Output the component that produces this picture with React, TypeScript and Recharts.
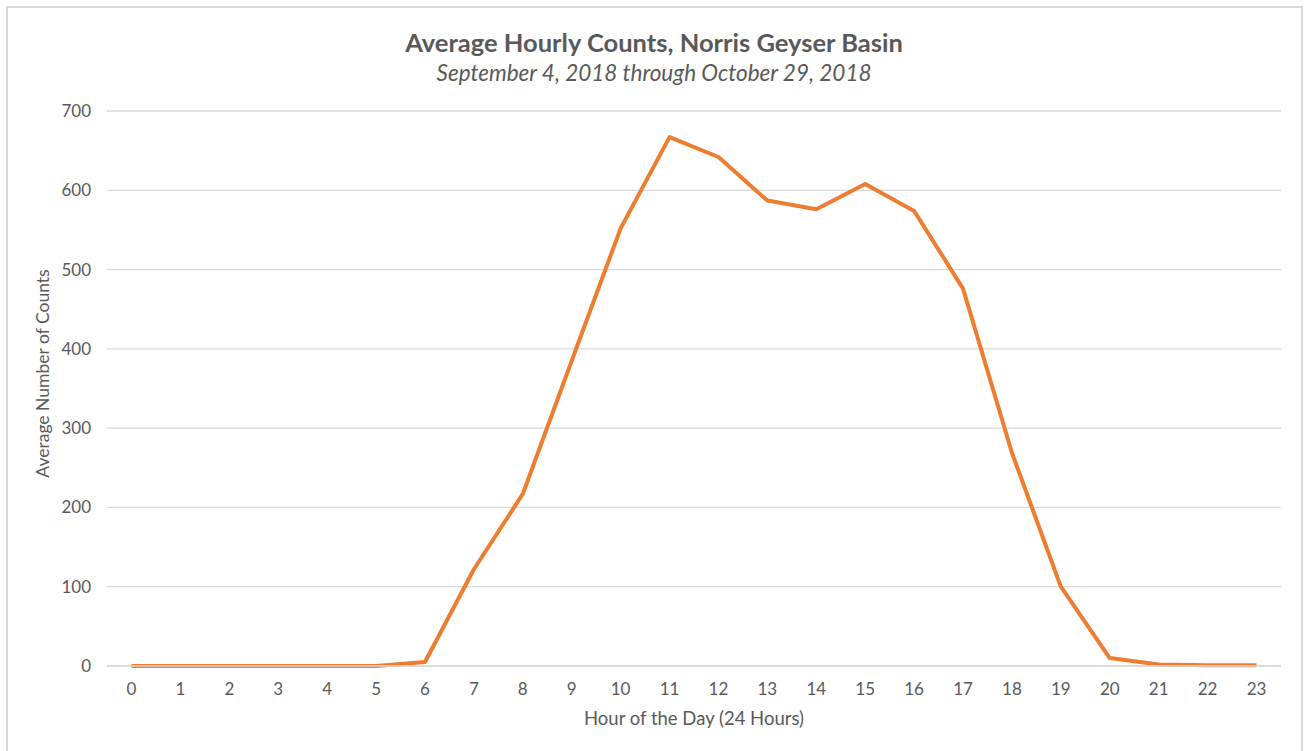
import React from 'react';
import { LineChart, Line, XAxis, YAxis, CartesianGrid, Label } from 'recharts';

// average counts per hour of day
const hours = [
  '0', '1', '2', '3', '4', '5', '6', '7', '8', '9', '10', '11',
  '12', '13', '14', '15', '16', '17', '18', '19', '20', '21', '22', '23',
];
const avgCounts = [
  0, 0, 0, 0, 0, 0, 5, 122, 217, 385, 552, 667,
  642, 587, 576, 608, 574, 476, 269, 100, 10, 2, 1, 1,
];
const yTicks = [0, 100, 200, 300, 400, 500, 600, 700];

const data = hours.map((h, i) => ({ hour: h, count: avgCounts[i] }));

const textColor = '#595959';
const font = 'Lato, "Open Sans", sans-serif';

const App: React.FC = () => {
  return (
    <div
      style={{
        position: 'absolute',
        left: 0,
        top: 0,
        width: 1304,
        height: 751,
        overflow: 'hidden',
        background: '#fff',
        fontFamily: font,
      }}
    >
      <div
        style={{
          position: 'absolute',
          left: 6,
          top: 6,
          width: 1297,
          height: 780,
          boxSizing: 'border-box',
          border: '2px solid #d9d9d9',
        }}
      />
      <div
        style={{
          position: 'absolute',
          left: 0,
          top: 26,
          width: 1308,
          textAlign: 'center',
          color: textColor,
          fontSize: 25.5,
          fontWeight: 700,
          lineHeight: '32px',
        }}
      >
        Average Hourly Counts, Norris Geyser Basin
      </div>
      <div
        style={{
          position: 'absolute',
          left: 0,
          top: 59,
          width: 1308,
          textAlign: 'center',
          color: textColor,
          fontSize: 22.5,
          fontStyle: 'italic',
          lineHeight: '28px',
        }}
      >
        September 4, 2018 through October 29, 2018
      </div>
      <div style={{ position: 'absolute', left: 0, top: 0 }}>
        <LineChart
          width={1304}
          height={751}
          data={data}
          margin={{ top: 111, right: 23, bottom: 0, left: 0 }}
        >
          <CartesianGrid vertical={false} stroke="#d9d9d9" strokeWidth={1.3} />
          <XAxis
            dataKey="hour"
            scale="point"
            padding={{ left: 24.5, right: 24.5 }}
            height={85}
            axisLine={{ stroke: '#d9d9d9', strokeWidth: 1.3 }}
            tickLine={false}
            tickMargin={11}
            tick={{ fill: textColor, fontSize: 17, fontFamily: font }}
          >
            <Label
              value="Hour of the Day (24 Hours)"
              position="insideBottom"
              offset={26}
              fill={textColor}
              fontSize={18.5}
              fontFamily={font}
            />
          </XAxis>
          <YAxis
            width={107}
            domain={[0, 700]}
            ticks={yTicks}
            axisLine={false}
            tickLine={false}
            tickMargin={10}
            tick={{ fill: textColor, fontSize: 17, fontFamily: font }}
          >
            <Label
              value="Average Number of Counts"
              angle={-90}
              position="insideLeft"
              offset={43}
              dy={-15}
              fill={textColor}
              fontSize={17.5}
              fontFamily={font}
              style={{ textAnchor: 'middle' }}
            />
          </YAxis>
          <Line
            type="linear"
            dataKey="count"
            stroke="#ED7D31"
            strokeWidth={4}
            strokeLinejoin="round"
            dot={false}
            activeDot={false}
            isAnimationActive={false}
          />
        </LineChart>
      </div>
    </div>
  );
};

export default App;
